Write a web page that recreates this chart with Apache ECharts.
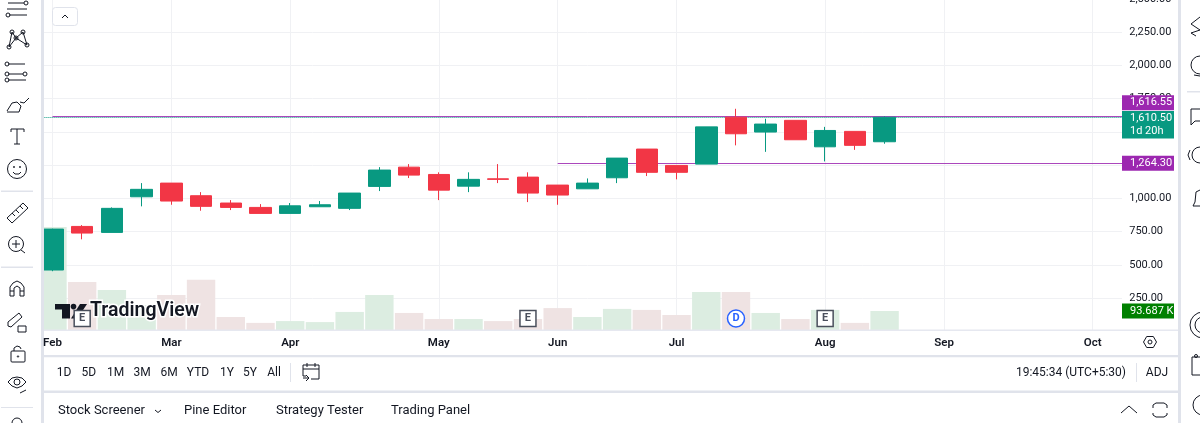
<!DOCTYPE html>
<html>
<head>
<meta charset="utf-8">
<title>TradingView chart</title>
<style>
html, body { margin: 0; padding: 0; background: #fff; overflow: hidden; }
#main { width: 1200px; height: 423px; }
</style>
<script src="https://cdn.jsdelivr.net/npm/echarts@6/dist/echarts.min.js"></script>
</head>
<body>
<div id="main"></div>
<script>
// weekly bars, the last categories are empty future weeks
var weeks = ['02-03', '02-10', '02-17', '02-24', '03-03', '03-10', '03-17', '03-24', '03-31', '04-07',
    '04-14', '04-21', '04-28', '05-05', '05-12', '05-19', '05-26', '06-02', '06-09', '06-16',
    '06-23', '06-30', '07-07', '07-14', '07-21', '07-28', '08-04', '08-11', '08-18', '08-25',
    '09-01', '09-08', '09-15', '09-22', '09-29', '10-06', '10-13'];
var monthIdx = [0, 4, 8, 13, 17, 21, 26, 30, 35];
var monthNames = ['Feb', 'Mar', 'Apr', 'May', 'Jun', 'Jul', 'Aug', 'Sep', 'Oct'];

var opens = [461, 789, 744, 1012, 1115, 1020, 965, 932, 887, 937, 925, 1090, 1235, 1180, 1092, 1147, 1160, 1100, 1072, 1155, 1371, 1248, 1258, 1611, 1499, 1587, 1388, 1504, 1426];
var closes = [769, 739, 925, 1068, 980, 940, 932, 887, 944, 952, 1040, 1213, 1175, 1062, 1143, 1143, 1040, 1025, 1115, 1303, 1196, 1196, 1538, 1486, 1559, 1441, 1511, 1399, 1610.5];
var lows = [452, 692, 744, 940, 952, 907, 912, 887, 887, 937, 912, 1055, 1153, 987, 1047, 1115, 972, 952, 1072, 1115, 1168, 1143, 1258, 1399, 1350, 1441, 1278, 1365, 1411];
var highs = [772, 799, 932, 1115, 1115, 1047, 987, 957, 965, 980, 1040, 1235, 1258, 1196, 1196, 1258, 1196, 1100, 1150, 1303, 1371, 1248, 1538, 1674, 1599, 1587, 1538, 1504, 1616.55];
// volume in thousands
var volumes = [508, 237, 197, 123, 173, 247, 64, 35, 44, 39, 89, 173, 84, 54, 54, 44, 54, 108, 64, 104, 99, 74, 187, 187, 84, 54, 99, 35, 93.687];

var lastHigh = 1616.55;
var lastPrice = 1610.5;
var levelPrice = 1264.3;
var levelStart = 17;
var eventIdx = [1, 16, 23, 26];
var eventNames = ['E', 'E', 'D', 'E'];

var UP = '#089981', DOWN = '#f23645', PURPLE = '#9c27b0', INK = '#131722', GAP = '#e0e3eb';
var FONT = 'Roboto, sans-serif';

var candles = opens.map(function (o, i) { return [o, closes[i], lows[i], highs[i]]; });

// vertical grid lines sit on the bar centres, not on the band edges
var marks = monthIdx.map(function (i) {
    return {xAxis: weeks[i], lineStyle: {color: '#f0f1f4', width: 1, type: 'solid'}};
});
var purpleLine = {color: PURPLE, width: 1, type: 'solid', opacity: 0.85};
marks.push([
    {coord: [weeks[0], lastHigh], lineStyle: purpleLine},
    {coord: [weeks[36], lastHigh], lineStyle: purpleLine}
]);
marks.push([
    {coord: [weeks[levelStart], levelPrice], lineStyle: purpleLine},
    {coord: [weeks[36], levelPrice], lineStyle: purpleLine}
]);
marks.push({yAxis: lastPrice, lineStyle: {color: UP, width: 1, type: 'dotted'}});

var option = {
    animation: false,
    backgroundColor: '#fff',
    grid: [
        {left: 37.6, width: 1099.6, top: -1, height: 332.3, outerBoundsMode: 'none'},
        {left: 37.6, width: 1099.6, top: 220, height: 110, outerBoundsMode: 'none'}
    ],
    xAxis: [
        {type: 'category', gridIndex: 0, data: weeks, axisLine: {show: false}, axisTick: {show: false}, axisLabel: {show: false}},
        {
            type: 'category', gridIndex: 1, data: weeks, z: 6,
            axisLine: {show: false}, axisTick: {show: false},
            axisLabel: {
                margin: 7, color: INK, fontFamily: FONT, fontSize: 11.5, fontWeight: 600,
                interval: function (i) { return monthIdx.indexOf(i) >= 0; },
                formatter: function (v, i) { return monthNames[monthIdx.indexOf(i)]; }
            }
        }
    ],
    yAxis: [
        {
            type: 'value', gridIndex: 0, min: 0, max: 2500, interval: 250,
            axisLine: {show: false}, axisTick: {show: false}, axisLabel: {show: false},
            splitLine: {lineStyle: {color: '#f0f1f4', width: 1}}
        },
        {
            // labels only, so they can sit above the panel that hides the grid ends
            type: 'value', gridIndex: 0, position: 'right', offset: -8, min: 0, max: 2500, interval: 250, z: 6,
            axisLine: {show: false}, axisTick: {show: false}, splitLine: {show: false},
            axisLabel: {
                margin: 0, align: 'left', color: INK, fontFamily: FONT, fontSize: 11,
                formatter: function (v) {
                    return v === 0 ? '' : v.toLocaleString('en-US', {minimumFractionDigits: 2});
                }
            }
        },
        {type: 'value', gridIndex: 1, min: 0, max: 542, show: false}
    ],
    series: [
        {
            type: 'bar', name: 'Volume', xAxisIndex: 1, yAxisIndex: 2, z: 1,
            barWidth: 28.4, data: volumes,
            itemStyle: {
                color: function (p) {
                    return closes[p.dataIndex] >= opens[p.dataIndex] ? '#dcede1' : '#efe3e3';
                }
            }
        },
        {
            type: 'candlestick', name: 'Price', xAxisIndex: 0, yAxisIndex: 0, z: 2,
            barWidth: 22, data: candles,
            itemStyle: {color: UP, color0: DOWN, borderColor: UP, borderColor0: DOWN, borderWidth: 1},
            markLine: {silent: true, symbol: 'none', z: 1, label: {show: false}, animation: false, data: marks}
        },
        {
            type: 'scatter', name: 'Events', xAxisIndex: 1, yAxisIndex: 2, z: 5,
            data: eventIdx.map(function (i, k) {
                var isDiv = eventNames[k] === 'D';
                return {
                    value: [i, 57],
                    symbol: isDiv ? 'circle' : 'rect',
                    symbolSize: isDiv ? 17 : 16,
                    itemStyle: {color: '#fff', borderColor: isDiv ? '#2962ff' : '#4a4f5c', borderWidth: 1.5, opacity: 1},
                    label: {
                        show: true, position: 'inside', formatter: eventNames[k],
                        color: isDiv ? '#2962ff' : '#4a4f5c', fontFamily: FONT, fontSize: 11, fontWeight: 700
                    }
                };
            })
        }
    ]
};

var chart = echarts.init(document.getElementById('main'));
chart.setOption(option);

// drawing helpers for the TradingView toolbars around the plot
var els = [];
function box(x, y, w, h, fill, z, r) {
    els.push({type: 'rect', silent: true, z: z || 3, shape: {x: x, y: y, width: w, height: h, r: r || 0}, style: {fill: fill}});
}
function line(x1, y1, x2, y2, color) {
    els.push({type: 'line', silent: true, z: 4, shape: {x1: x1, y1: y1, x2: x2, y2: y2}, style: {stroke: color || INK, lineWidth: 1}});
}
function ring(x, y, r, color) {
    els.push({type: 'circle', silent: true, z: 4, shape: {cx: x, cy: y, r: r}, style: {fill: 'none', stroke: color || INK, lineWidth: 1}});
}
function poly(points, closed, fill) {
    els.push({
        type: closed ? 'polygon' : 'polyline', silent: true, z: 4, shape: {points: points},
        style: fill ? {fill: fill} : {fill: 'none', stroke: INK, lineWidth: 1}
    });
}
function label(text, x, y, opt) {
    opt = opt || {};
    els.push({
        type: 'text', silent: true, z: opt.z || 6,
        style: {
            x: x, y: y, text: text, fill: opt.color || INK,
            font: (opt.weight || 400) + ' ' + (opt.size || 12) + 'px ' + FONT,
            textAlign: opt.align || 'left', textVerticalAlign: 'middle',
            stroke: opt.halo || null, lineWidth: opt.halo ? 3 : 0
        }
    });
}

// panels hiding the grid ends
box(0, 0, 41, 423, '#fff');
box(41, 0, 3, 423, GAP);
box(1122, 0, 56, 356, '#fff');
box(44, 331, 1134, 24, '#fff');
box(44, 329.5, 1134, 1.5, '#e6e8f0');
box(44, 355, 1137, 2.5, GAP);
box(44, 357.5, 1134, 33, '#fff');
box(44, 390.5, 1137, 2.5, GAP);
box(44, 393, 1134, 30, '#fff');
box(1178, 0, 3, 423, GAP);
box(1181, 0, 19, 423, '#fff');

// collapse button
els.push({type: 'rect', silent: true, z: 4, shape: {x: 52.5, y: 7.5, width: 25, height: 18, r: 3}, style: {fill: '#fff', stroke: GAP, lineWidth: 1}});
poly([[62, 18], [65, 15], [68, 18]]);

// left toolbar
line(8, 3, 24, 3); ring(26, 3, 2); line(7, 9, 27, 9); line(9, 15, 27, 15); ring(8, 15, 2);
poly([[9, 47], [12, 32], [16, 38], [23, 32], [27, 45], [16, 38], [9, 47]]);
ring(12, 32, 2); ring(23, 32, 2); ring(9, 47, 2); ring(27, 45, 2); ring(16, 38, 2);
line(8, 64, 25, 64); ring(7, 64, 2); line(8, 80, 26, 80); ring(7, 80, 2); line(8, 74, 23, 74); ring(25, 74, 2); ring(7, 74, 2);
poly([[7, 111], [12, 103], [17, 102], [21, 106], [19, 112], [7, 112]]); poly([[20, 102], [24, 103], [29, 98]]);
line(17, 129, 17, 144); line(11, 129, 24, 129); line(11, 129, 11, 132); line(24, 129, 24, 132); line(14, 144, 20, 144);
ring(17, 169, 9.5); ring(14, 167, 0.6); ring(20, 167, 0.6); poly([[13, 172], [15, 174], [19, 174], [21, 172]]);
box(1, 190.5, 32, 1.5, GAP, 4);
poly([[7, 218], [23, 203], [28, 208], [12, 223], [7, 218]]);
line(12, 213, 15, 216); line(16, 210, 19, 213); line(20, 206, 23, 209);
ring(16, 244, 7.5); line(12, 244, 20, 244); line(16, 240, 16, 248); line(21, 250, 25, 253);
box(1, 266.5, 32, 1.5, GAP, 4);
poly([[10, 296], [10, 287], [13, 283], [17, 281], [21, 283], [24, 287], [24, 296], [20, 296], [20, 288], [17, 286], [14, 288], [14, 296], [10, 296]]);
line(10, 291, 14, 291); line(20, 291, 24, 291);
poly([[8, 326], [8, 322], [19, 313], [22, 317], [11, 327], [8, 326]]);
els.push({type: 'rect', silent: true, z: 4, shape: {x: 18, y: 326, width: 8, height: 6}, style: {fill: 'none', stroke: INK}});
els.push({type: 'rect', silent: true, z: 4, shape: {x: 11, y: 351, width: 14, height: 11, r: 1}, style: {fill: 'none', stroke: INK}});
poly([[14, 351], [14, 348], [17, 346], [20, 347], [21, 349]]); ring(18, 356.5, 0.7);
poly([[8, 382], [12, 378], [17, 377], [22, 378], [26, 382], [22, 386], [17, 388], [12, 386], [8, 382]]);
ring(17, 382, 3); line(20, 393, 26, 390);
box(1, 407, 32, 1, GAP, 4);
ring(17, 423, 5);

// right toolbar, mostly cut by the window edge
poly([[1200, 17], [1191, 24], [1200, 30]]); poly([[1200, 30], [1191, 33], [1196, 36]]);
ring(1200, 65, 9); poly([[1194, 75], [1200, 76]]);
box(1187, 91, 13, 1.5, GAP, 4);
poly([[1200, 109], [1191, 109], [1191, 125], [1195, 121], [1200, 121]]);
ring(1200, 155, 8); poly([[1190, 150], [1188, 155], [1190, 160]]);
poly([[1200, 190], [1196, 192], [1195, 202], [1193, 206], [1200, 206]]);
ring(1203, 325, 13); ring(1203, 325, 8);
poly([[1200, 357], [1192, 357], [1192, 375], [1200, 375]]); ring(1196, 356, 1.5);
ring(1203, 405, 10);

// watermark
poly([[55, 304], [70, 304], [70, 318.5], [62, 318.5], [62, 309.5], [55, 309.5]], true, INK);
els.push({type: 'circle', silent: true, z: 4, shape: {cx: 73.5, cy: 306.6, r: 2.8}, style: {fill: INK}});
poly([[80, 304], [87, 304], [77.5, 318.5], [71, 318.5]], true, INK);
label('TradingView', 90, 311, {size: 19.5, weight: 600, z: 4, halo: '#fff'});

// range toolbar
var ranges = ['1D', '5D', '1M', '3M', '6M', 'YTD', '1Y', '5Y', 'All'];
var rangeX = [64, 88.7, 115.7, 142, 169, 198, 227, 250, 274];
ranges.forEach(function (r, i) { label(r, rangeX[i], 373, {align: 'center'}); });
box(290, 363, 1, 19, GAP, 4);
poly([[306, 376], [303, 376], [303, 365], [319, 365], [319, 379], [311, 379]]);
line(303, 369, 319, 369); line(307, 363, 307, 367); line(315, 363, 315, 367);
poly([[303, 378], [309, 378]]); poly([[306, 375], [309, 378], [306, 381]]);
label('19:45:34 (UTC+5:30)', 1126, 373, {align: 'right'});
box(1136, 363, 1, 19, GAP, 4);
label('ADJ', 1157, 373, {align: 'center'});

// bottom tabs
label('Stock Screener', 58, 411, {size: 13});
poly([[155, 410], [158, 412.5], [161, 410]]);
label('Pine Editor', 184, 411, {size: 13});
label('Strategy Tester', 276, 411, {size: 13});
label('Trading Panel', 391, 411, {size: 13});
poly([[1121, 413], [1129, 406], [1137, 413]]);
poly([[1153, 408], [1153, 405], [1156, 403], [1164, 403], [1167, 405], [1167, 408]]);
poly([[1153, 413], [1153, 415], [1156, 417], [1164, 417], [1167, 415], [1167, 413]]);

// axis settings hexagon
poly([[1143.5, 342], [1146.7, 336.5], [1153.3, 336.5], [1156.5, 342], [1153.3, 347.5], [1146.7, 347.5], [1143.5, 342]]);
ring(1150, 342, 2);

// price tags follow the scales, and cover the axis labels behind them
function tag(y, h, color, lines) {
    box(1122, y - h / 2, 52, h, color, 7);
    lines.forEach(function (t, i) {
        label(t, 1130, y - h / 2 + 7.5 + i * 13, {color: '#fff', size: 11, z: 8});
    });
}
var priceY = function (v) { return chart.convertToPixel({yAxisIndex: 0}, v); };
var volY = chart.convertToPixel({yAxisIndex: 2}, volumes[volumes.length - 1]);
tag(priceY(lastHigh) - 13.8, 15, PURPLE, ['1,616.55']);
tag(priceY(lastPrice) + 7.5, 27.5, UP, ['1,610.50', '1d 20h']);
tag(priceY(levelPrice), 15, PURPLE, ['1,264.30']);
tag(volY, 15, '#008000', ['93.687 K']);

chart.setOption({graphic: {elements: els}});
window.onresize = chart.resize;
</script>
</body>
</html>
